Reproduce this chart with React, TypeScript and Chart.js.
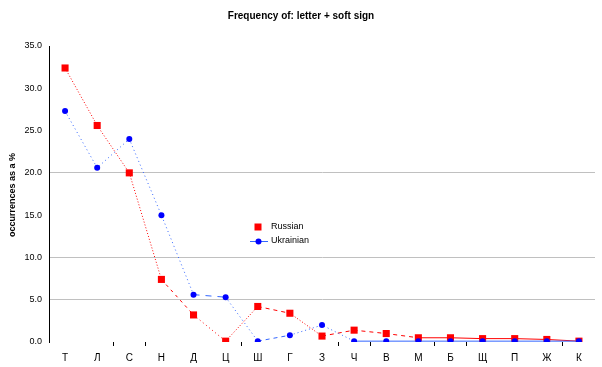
import React, { useEffect, useRef } from "react";
import { Chart, registerables } from "chart.js";

Chart.register(...registerables);

const categories = ["Т", "Л", "С", "Н", "Д", "Ц", "Ш", "Г", "З", "Ч", "В", "М", "Б", "Щ", "П", "Ж", "К"];
const russian = [32.4, 25.6, 20.0, 7.4, 3.2, 0.1, 4.2, 3.4, 0.7, 1.4, 1.0, 0.5, 0.5, 0.4, 0.4, 0.3, 0.1];
const ukrainian = [27.3, 20.6, 24.0, 15.0, 5.6, 5.3, 0.1, 0.8, 2.0, 0.1, 0.1, 0.1, 0.1, 0.1, 0.1, 0.1, 0.1];
const yTicks = [0, 5, 10, 15, 20, 25, 30, 35];
const gridValues = [5, 10, 20];
const tickMarkIndices = [2, 3, 6, 9, 10, 12, 13, 16];

const FONT = "'Liberation Sans', Arial, sans-serif";

const ruDash = [[1, 2], [1, 2], [1, 2], [3, 4], [1, 3], [1, 2], [4, 4], [1, 2], [4, 4], [4, 4], [4, 4], [], [], [], [], []];
const uaDash = [[1, 3], [1, 3], [1, 3], [1, 3], [6, 6], [1, 3], [4, 4], [1, 3], [1, 3], [], [], [], [], [], [], []];

const overlayPlugin = {
  id: "overlay",
  afterDraw(chart: any) {
    const ctx = chart.ctx;
    ctx.save();
    ctx.fillStyle = "#000";
    ctx.textBaseline = "middle";
    ctx.textAlign = "center";
    ctx.font = `bold 10px ${FONT}`;
    ctx.fillText("Frequency of: letter + soft sign", 301, 16);
    ctx.save();
    ctx.translate(13, 195);
    ctx.rotate(-Math.PI / 2);
    ctx.font = `bold 9px ${FONT}`;
    ctx.fillText("occurrences as a %", 0, 0);
    ctx.restore();
    // legend
    const lx = 258;
    const ly1 = 227;
    const ly2 = 241;
    ctx.fillStyle = "#ff0000";
    ctx.fillRect(lx - 3.5, ly1 - 3.5, 7, 7);
    ctx.strokeStyle = "#3366ff";
    ctx.lineWidth = 1;
    ctx.beginPath();
    ctx.moveTo(250, ly2 + 0.5);
    ctx.lineTo(268, ly2 + 0.5);
    ctx.stroke();
    ctx.fillStyle = "#0000ff";
    ctx.beginPath();
    ctx.arc(lx + 0.5, ly2 + 0.5, 3, 0, Math.PI * 2);
    ctx.fill();
    ctx.fillStyle = "#000";
    ctx.textAlign = "left";
    ctx.font = `9px ${FONT}`;
    ctx.fillText("Russian", 271, ly1);
    ctx.fillText("Ukrainian", 271, ly2);
    ctx.restore();
  },
};

export default function App() {
  const ref = useRef<HTMLCanvasElement>(null);
  useEffect(() => {
    document.body.style.margin = "0";
    const chart = new Chart(ref.current!, {
      type: "line",
      data: {
        labels: categories,
        datasets: [
          {
            label: "Russian",
            data: russian,
            order: 1,
            borderColor: "#ff0000",
            backgroundColor: "#ff0000",
            borderWidth: 1,
            pointStyle: "rect",
            pointRadius: 5,
            pointBorderWidth: 0,
            tension: 0,
            segment: { borderDash: (c: any) => ruDash[c.p0DataIndex] },
          },
          {
            label: "Ukrainian",
            data: ukrainian,
            order: 0,
            borderColor: "#3366ff",
            backgroundColor: "#0000ff",
            pointBorderColor: "#0000ff",
            borderWidth: 1,
            pointStyle: "circle",
            pointRadius: 3,
            pointBorderWidth: 0,
            tension: 0,
            segment: { borderDash: (c: any) => uaDash[c.p0DataIndex] },
          },
        ],
      },
      options: {
        animation: false,
        responsive: false,
        layout: { padding: { top: 46, right: 7, left: 0, bottom: 0 } },
        plugins: { legend: { display: false }, title: { display: false }, tooltip: { enabled: false } },
        scales: {
          x: {
            offset: true,
            border: { display: false },
            grid: {
              offset: true,
              drawOnChartArea: false,
              drawTicks: true,
              tickLength: 4,
              color: (c: any) => (tickMarkIndices.includes(c.index) ? "#000" : "rgba(0,0,0,0)"),
            },
            ticks: { color: "#000", font: { family: FONT, size: 10 }, padding: 6, maxRotation: 0, autoSkip: false },
            afterFit: (s: any) => { s.height = 25; },
          },
          y: {
            min: 0,
            max: 35,
            border: { display: true, color: "#000", width: 1 },
            grid: {
              drawTicks: false,
              color: (c: any) => (gridValues.includes(c.tick.value) ? "#c0c0c0" : "rgba(0,0,0,0)"),
            },
            afterBuildTicks: (s: any) => { s.ticks = yTicks.map((v) => ({ value: v })); },
            ticks: {
              color: "#000",
              font: { family: FONT, size: 9 },
              padding: 7,
              callback: (v: any) => Number(v).toFixed(1),
            },
            afterFit: (s: any) => { s.width = 49; },
          },
        },
      },
      plugins: [overlayPlugin],
    });
    return () => chart.destroy();
  }, []);
  return <canvas ref={ref} width={602} height={367} style={{ display: "block" }} />;
}
